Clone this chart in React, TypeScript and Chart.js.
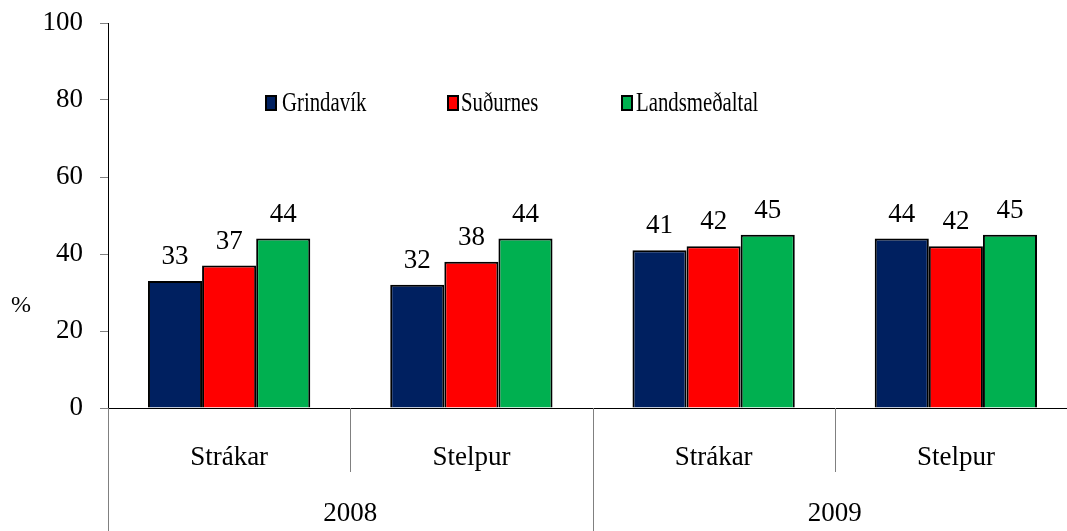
import React, { useEffect, useRef } from "react";
import { Chart, registerables } from "chart.js";

Chart.register(...registerables);

const categories = ["Strákar", "Stelpur", "Strákar", "Stelpur"];
const years = ["2008", "2009"];
const seriesNames = ["Grindavík", "Suðurnes", "Landsmeðaltal"];
const grindavik = [33, 32, 41, 44];
const sudurnes = [37, 38, 42, 42];
const landsmedaltal = [44, 44, 45, 45];
const yTicks = [0, 20, 40, 60, 80, 100];
const colors = ["#002060", "#FF0000", "#00B050"];

const FONT = "'Liberation Serif', 'Times New Roman', serif";

const overlayPlugin = {
  id: "overlay",
  afterDraw(chart: any) {
    const ctx = chart.ctx;
    const area = chart.chartArea;
    ctx.save();

    // separators below x axis
    const n = categories.length;
    const step = (area.right - area.left) / n;
    ctx.strokeStyle = "#808080";
    ctx.lineWidth = 1;
    for (let i = 0; i <= n; i++) {
      const x = Math.round(area.left + i * step) + 0.5;
      const full = i % 2 === 0;
      ctx.beginPath();
      ctx.moveTo(x, area.bottom);
      ctx.lineTo(x, full ? chart.height : area.bottom + 64);
      ctx.stroke();
    }

    // year labels
    ctx.fillStyle = "#000";
    ctx.font = `27px ${FONT}`;
    ctx.textAlign = "center";
    ctx.textBaseline = "middle";
    years.forEach((y, i) => {
      const cx = area.left + (i * 2 + 1) * step;
      ctx.fillText(y, cx, area.bottom + 106);
    });

    // data labels
    ctx.textBaseline = "alphabetic";
    chart.data.datasets.forEach((ds: any, di: number) => {
      const meta = chart.getDatasetMeta(di);
      meta.data.forEach((bar: any, i: number) => {
        ctx.fillText(String(ds.data[i]), bar.x, bar.y - 17);
      });
    });

    // % label
    ctx.font = `24px ${FONT}`;
    ctx.textBaseline = "middle";
    ctx.fillText("%", 21, 306);

    // legend (horizontally compressed like the original)
    const items = [
      { sx: 265, tx: 282 },
      { sx: 447, tx: 461 },
      { sx: 621, tx: 636 },
    ];
    const cy = 103;
    chart.data.datasets.forEach((ds: any, di: number) => {
      const it = items[di];
      ctx.fillStyle = "#000";
      ctx.fillRect(it.sx, cy - 8, 12, 16);
      ctx.fillStyle = ds.backgroundColor;
      ctx.fillRect(it.sx + 2, cy - 6, 8, 12);
      ctx.save();
      ctx.translate(it.tx, cy);
      ctx.scale(0.77, 1);
      ctx.fillStyle = "#000";
      ctx.font = `27px ${FONT}`;
      ctx.textAlign = "left";
      ctx.textBaseline = "middle";
      ctx.fillText(ds.label, 0, 1);
      ctx.restore();
    });

    ctx.restore();
  },
};

export default function App() {
  const ref = useRef<HTMLCanvasElement>(null);

  useEffect(() => {
    if (!ref.current) return;
    const seriesData = [grindavik, sudurnes, landsmedaltal];
    const chart = new Chart(ref.current, {
      type: "bar",
      data: {
        labels: categories,
        datasets: seriesNames.map((name, i) => ({
          label: name,
          data: seriesData[i],
          backgroundColor: colors[i],
          borderColor: "#000",
          borderWidth: 2,
          barPercentage: 1,
          categoryPercentage: 0.67,
        })),
      },
      options: {
        responsive: false,
        animation: false,
        devicePixelRatio: 1,
        layout: { padding: { top: 23, right: 23, left: 0, bottom: 0 } },
        plugins: {
          legend: { display: false },
          tooltip: { enabled: false },
        },
        scales: {
          x: {
            grid: { display: false },
            border: { display: true, color: "#000", width: 1 },
            ticks: {
              color: "#000",
              font: { family: FONT, size: 27 },
              padding: 26,
              maxRotation: 0,
            },
            afterFit: (s: any) => {
              s.height = 123;
              s.paddingLeft = 0;
              s.paddingRight = 0;
            },
          },
          y: {
            min: 0,
            max: 100,
            afterBuildTicks: (s: any) => {
              s.ticks = yTicks.map((v) => ({ value: v }));
            },
            grid: {
              drawOnChartArea: false,
              drawTicks: true,
              tickLength: 8,
              color: "#808080",
            },
            border: { display: true, color: "#000", width: 1 },
            ticks: {
              color: "#000",
              font: { family: FONT, size: 27 },
              padding: 17,
            },
            afterFit: (s: any) => {
              s.width = 108;
              s.paddingTop = 0;
              s.paddingBottom = 0;
            },
          },
        },
      },
      plugins: [overlayPlugin],
    });
    return () => chart.destroy();
  }, []);

  return (
    <div
      style={{
        position: "fixed",
        left: 0,
        top: 0,
        width: 1067,
        height: 531,
        overflow: "hidden",
        background: "#fff",
      }}
    >
      <canvas ref={ref} width={1100} height={531} style={{ display: "block" }} />
    </div>
  );
}
